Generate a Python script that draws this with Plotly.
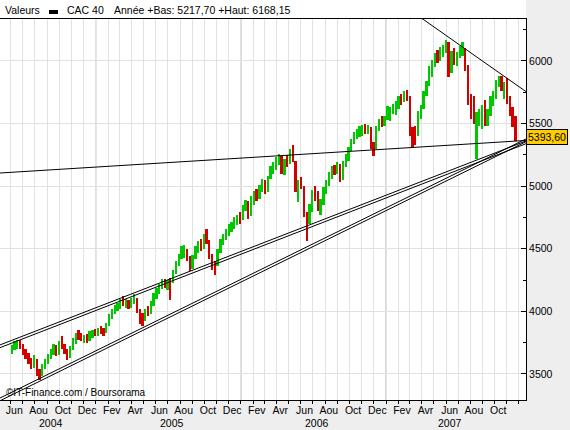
import pandas as pd
import plotly.graph_objects as go

# ---------------- data (weekly bars, Friday week endings) ----------------
week_start = "2004-06-04"
week_end = "2007-11-23"

high_2004 = [3730, 3760, 3775, 3770, 3740, 3700, 3670, 3630, 3650, 3620, 3540, 3580, 3620,
             3660, 3700, 3740, 3730, 3760, 3800, 3740, 3700, 3720, 3790, 3830, 3850, 3830,
             3810, 3820, 3840, 3850, 3860]
low_2004 = [3660, 3690, 3700, 3700, 3650, 3620, 3580, 3540, 3550, 3480, 3450, 3480, 3540,
            3580, 3620, 3650, 3640, 3650, 3700, 3660, 3610, 3630, 3690, 3740, 3770, 3760,
            3750, 3750, 3760, 3790, 3800]
close_2004 = [3700, 3740, 3745, 3720, 3680, 3640, 3600, 3580, 3630, 3500, 3470, 3560, 3600,
              3640, 3680, 3720, 3660, 3740, 3720, 3680, 3640, 3700, 3770, 3810, 3800, 3780,
              3790, 3770, 3810, 3830, 3820]

high_2005 = [3870, 3880, 3870, 3910, 3980, 4020, 4050, 4070, 4100, 4120, 4100, 4090,
             4110, 4140, 4110, 4020, 3990, 4020, 4040, 4080, 4150, 4190, 4220, 4260, 4260,
             4250, 4270, 4330, 4400, 4460, 4520, 4530, 4500, 4440, 4450, 4520, 4560, 4580,
             4620, 4660, 4570, 4460, 4400, 4500, 4580, 4620, 4660, 4700, 4710, 4750, 4770, 4790]
low_2005 = [3800, 3820, 3800, 3830, 3880, 3940, 3980, 4000, 4020, 4040, 4030, 4020,
            4030, 4060, 3990, 3900, 3880, 3920, 3960, 3980, 4040, 4100, 4140, 4180, 4190,
            4170, 4090, 4230, 4300, 4360, 4420, 4430, 4400, 4320, 4340, 4420, 4470, 4480,
            4500, 4540, 4420, 4330, 4290, 4360, 4470, 4530, 4570, 4600, 4630, 4660, 4690, 4700]
close_2005 = [3850, 3840, 3830, 3890, 3960, 4000, 4030, 4040, 4080, 4060, 4070, 4040,
              4090, 4110, 4010, 3950, 3930, 4000, 3990, 4060, 4130, 4160, 4200, 4230, 4210,
              4230, 4220, 4310, 4380, 4430, 4470, 4500, 4420, 4350, 4430, 4500, 4540, 4510,
              4600, 4560, 4450, 4380, 4350, 4480, 4560, 4590, 4640, 4670, 4690, 4720, 4750, 4720]

high_2006 = [4850, 4890, 4880, 4920, 4960, 4980, 5010, 5060, 5050, 5080, 5160, 5190, 5230,
             5260, 5240, 5220, 5250, 5300, 5330, 5200, 5050, 5070, 5000, 4790, 4860, 4970,
             5000, 4960, 4900, 4990, 5050, 5110, 5160, 5170, 5190, 5180, 5200, 5260, 5310,
             5380, 5430, 5460, 5480, 5490, 5500, 5490, 5470, 5350, 5480, 5540, 5560, 5560]
low_2006 = [4730, 4800, 4740, 4760, 4850, 4880, 4900, 4950, 4940, 4950, 5060, 5100, 5130,
            5170, 5100, 5090, 5150, 5180, 5190, 4950, 4870, 4980, 4750, 4560, 4700, 4790,
            4880, 4800, 4770, 4850, 4940, 5000, 5060, 5090, 5100, 5030, 5050, 5150, 5200,
            5280, 5340, 5380, 5390, 5400, 5420, 5420, 5300, 5240, 5300, 5440, 5470, 5480]
close_2006 = [4830, 4870, 4770, 4900, 4930, 4910, 4990, 5030, 4970, 5060, 5140, 5150, 5220,
              5230, 5130, 5200, 5180, 5280, 5220, 5000, 5030, 5000, 4800, 4700, 4830, 4950,
              4920, 4820, 4860, 4970, 5010, 5080, 5140, 5120, 5170, 5060, 5180, 5200, 5290,
              5360, 5410, 5420, 5440, 5470, 5440, 5460, 5330, 5300, 5460, 5510, 5500, 5540]

high_2007 = [5640, 5630, 5660, 5680, 5720, 5740, 5760, 5770, 5720, 5470, 5480, 5600, 5650,
             5760, 5840, 5960, 6010, 6060, 6090, 6110, 6130, 6168.15, 6150, 6080, 6100, 6070,
             6120, 6150, 6100, 5970, 5740, 5720, 5590, 5620, 5650, 5690, 5620, 5720, 5760,
             5850, 5880, 5880, 5830, 5860, 5720, 5630, 5560]
low_2007 = [5530, 5520, 5580, 5570, 5620, 5650, 5670, 5680, 5400, 5310, 5330, 5400, 5540,
            5620, 5720, 5800, 5870, 5950, 5980, 6000, 6030, 6060, 5870, 5900, 5970, 5960,
            6020, 6040, 5920, 5650, 5540, 5500, 5217.70, 5480, 5460, 5480, 5480, 5560, 5640,
            5700, 5790, 5760, 5700, 5660, 5560, 5470, 5360]
close_2007 = [5570, 5610, 5620, 5640, 5690, 5680, 5740, 5700, 5450, 5420, 5360, 5580, 5630,
              5740, 5820, 5940, 5970, 6040, 6010, 6080, 6090, 6140, 5940, 6060, 6000, 6050,
              6100, 6110, 5950, 5700, 5580, 5530, 5560, 5600, 5620, 5520, 5580, 5700, 5720,
              5830, 5860, 5780, 5800, 5690, 5590, 5510, 5393.60]

# trend lines (dates, values)
support_dates = ["2004-05-05", "2007-12-19"]
support_values = [5105, 5365]
resistance_dates = ["2007-03-01", "2007-12-19"]
resistance_values = [6409, 5755]
channel_up_dates = ["2004-05-05", "2007-12-19"]
channel_up_values = [3732, 5361]
channel_low_dates = ["2004-05-05", "2007-12-19"]
channel_low_values = [3308, 5377]

last_value_label = "5393,60"
last_value = 5393.60
legend_title = "Valeurs"
series_name = "CAC 40"
legend_stats = "Année +Bas: 5217,70 +Haut: 6168,15"
credit = "©IT-Finance.com / Boursorama"

month_names = {2: "Fev", 4: "Avr", 6: "Jun", 8: "Aou", 10: "Oct", 12: "Dec"}
years = [2004, 2005, 2006, 2007]

# ---------------- build ----------------
weeks = pd.date_range(week_start, week_end, freq="W-FRI")
high = high_2004 + high_2005 + high_2006 + high_2007
low = low_2004 + low_2005 + low_2006 + low_2007
close = close_2004 + close_2005 + close_2006 + close_2007
assert len(weeks) == len(high) == len(low) == len(close)

UP = "#00C800"
DOWN = "#D40000"
colors = []
for i, c in enumerate(close):
    prev = close[i - 1] if i > 0 else (high[0] + low[0]) / 2
    colors.append(UP if c >= prev else DOWN)

FONT = "Liberation Sans, Arial, sans-serif"
x_range = ["2004-05-05", "2007-12-19"]
y_range = [3292, 6335]

fig = go.Figure()
fig.add_trace(go.Bar(
    x=weeks, y=[h - l for h, l in zip(high, low)], base=low,
    marker=dict(color=colors, line=dict(width=0)),
    width=4.5 * 86400000, showlegend=False, hoverinfo="skip",
))

OFF = 22  # offset of the doubled channel lines (value units)
line_style = dict(color="black", width=1)
for dts, vals, doubled in [
    (support_dates, support_values, False),
    (resistance_dates, resistance_values, False),
    (channel_up_dates, channel_up_values, True),
    (channel_low_dates, channel_low_values, True),
]:
    fig.add_trace(go.Scatter(x=dts, y=vals, mode="lines", line=line_style,
                             showlegend=False, hoverinfo="skip"))
    if doubled:
        fig.add_trace(go.Scatter(x=dts, y=[v - OFF for v in vals], mode="lines",
                                 line=line_style, showlegend=False, hoverinfo="skip"))

label_months = pd.date_range("2004-06-01", "2007-10-01", freq="2MS")
tick_pos = label_months + pd.Timedelta(days=9)
tick_text = [month_names[d.month] for d in label_months]

shapes = [
    # white band behind the legend row
    dict(type="rect", xref="paper", yref="paper", x0=0, x1=1, y0=1, y1=1.06,
         fillcolor="white", line=dict(width=0), layer="below"),
    # legend line symbol
    dict(type="rect", xref="paper", yref="paper", x0=49 / 526, x1=58 / 526,
         y0=(400 - 14) / 381, y1=(400 - 10) / 381, fillcolor="black",
         line=dict(width=0)),
]
for y in years[1:]:
    shapes.append(dict(type="line", xref="x", yref="paper", x0=f"{y}-01-01",
                       x1=f"{y}-01-01", y0=0, y1=1,
                       line=dict(color="#A8A8A8", width=1), layer="below"))

annotations = [
    dict(text=legend_title, x=3 / 526, y=(400 - 10) / 381, xref="paper", yref="paper",
         xanchor="left", yanchor="middle", showarrow=False,
         font=dict(size=10.5, color="black", family=FONT)),
    dict(text=series_name, x=65 / 526, y=(400 - 10) / 381, xref="paper", yref="paper",
         xanchor="left", yanchor="middle", showarrow=False,
         font=dict(size=10.5, color="black", family=FONT)),
    dict(text=legend_stats, x=112 / 526, y=(400 - 10) / 381, xref="paper", yref="paper",
         xanchor="left", yanchor="middle", showarrow=False,
         font=dict(size=10.5, color="black", family=FONT)),
    dict(text=credit, x=4 / 526, y=(400 - 392) / 381, xref="paper", yref="paper",
         xanchor="left", yanchor="middle", showarrow=False,
         font=dict(size=10, color="black", family=FONT)),
    dict(text=last_value_label, x=1, y=last_value, xref="paper", yref="y",
         xanchor="left", yanchor="middle", showarrow=False,
         bgcolor="#FFCC00", bordercolor="black", borderwidth=1, borderpad=1,
         font=dict(size=10.5, color="black", family=FONT)),
]
for y in years:
    in_year = [p for p in tick_pos if p.year == y]
    mid = in_year[0] + (in_year[-1] - in_year[0]) / 2
    annotations.append(dict(text=str(y), x=mid, y=-(423 - 400) / 381, xref="x",
                            yref="paper", xanchor="center", yanchor="middle",
                            showarrow=False,
                            font=dict(size=10.5, color="black", family=FONT)))

fig.update_layout(
    width=570, height=430,
    margin=dict(l=0, r=44, t=19, b=30),
    paper_bgcolor="#EEEEEE", plot_bgcolor="white",
    bargap=0, shapes=shapes, annotations=annotations,
    font=dict(family=FONT, size=10.5, color="black"),
)
fig.update_xaxes(
    type="date", range=x_range, tickvals=tick_pos, ticktext=tick_text,
    showgrid=False, ticks="", tickfont=dict(size=10.5),
    showline=True, linecolor="black", linewidth=1, mirror=True,
    minor=dict(dtick="M1", tick0="2004-01-01", showgrid=True, gridcolor="#E2E2E2",
               ticks="outside", ticklen=3, tickcolor="black"),
    zeroline=False,
)
fig.update_yaxes(
    range=y_range, side="right", dtick=500, tick0=0, tickformat="d",
    ticks="inside", ticklen=5, tickcolor="black",
    showgrid=True, gridcolor="#E2E2E2",
    showline=True, linecolor="black", linewidth=1, mirror=False, zeroline=False,
    minor=dict(dtick=250, tick0=0, ticks="inside", ticklen=3, tickcolor="black",
               showgrid=False),
    tickfont=dict(size=10.5),
)

fig.write_html("out.html")
